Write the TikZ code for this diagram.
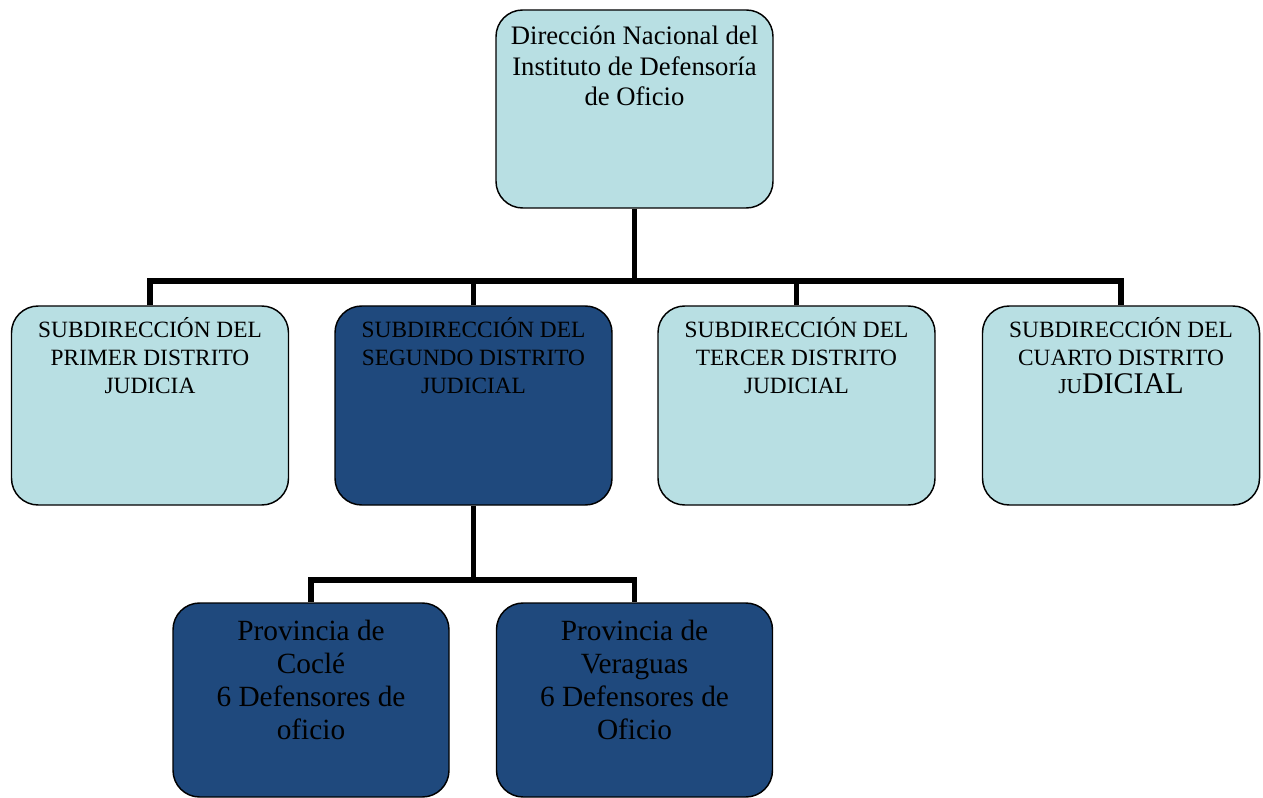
\documentclass[tikz,border=0pt]{standalone}
\usepackage{fontspec}
\setmainfont{Liberation Serif}
\usetikzlibrary{backgrounds}
\definecolor{lightb}{HTML}{B8DFE3}
\definecolor{darkb}{HTML}{1F497D}
\begin{document}
\begin{tikzpicture}[x=0.75pt,y=-0.75pt,
  box/.style={draw=black,line width=1.1pt,rounded corners=20pt,inner sep=0pt},
  lbox/.style={box,fill=lightb},
  dbox/.style={box,fill=darkb},
  topsize/.style={minimum width=207.75pt,minimum height=148.5pt},
  midsize/.style={minimum width=207.75pt,minimum height=149.25pt},
  lowsize/.style={minimum width=207pt,minimum height=145.5pt},
  conn/.style={line width=4.3pt,line join=miter},
  ttop/.style={font=\fontsize{20}{22.9}\selectfont,align=center,anchor=base,inner sep=0pt},
  tmid/.style={font=\fontsize{17.5}{20.8}\selectfont,align=center,anchor=base,inner sep=0pt},
  tlow/.style={font=\fontsize{22}{24.75}\selectfont,align=center,anchor=base,inner sep=0pt}
]
\useasboundingbox (0,0) rectangle (1263,798);

\node[lbox,topsize] (top) at (634.5,109) {};
\node[lbox,midsize] (s1) at (150,405.5) {};
\node[dbox,midsize] (s2) at (473.5,405.5) {};
\node[lbox,midsize] (s3) at (796.5,405.5) {};
\node[lbox,midsize] (s4) at (1121,405.5) {};
\node[dbox,lowsize] (p1) at (311,700) {};
\node[dbox,lowsize] (p2) at (634.5,700) {};

\coordinate (bus) at (0,281);
\coordinate (bus2) at (0,580);

\begin{scope}[on background layer]
\draw[conn] (top.south) -- (top.south |- bus);
\draw[conn] (s1.north) -- (s1.north |- bus) -- (s4.north |- bus) -- (s4.north);
\draw[conn] (s2.north) -- (s2.north |- bus);
\draw[conn] (s3.north) -- (s3.north |- bus);
\draw[conn] (s2.south) -- (s2.south |- bus2);
\draw[conn] (p1.north) -- (p1.north |- bus2) -- (p2.north |- bus2) -- (p2.north);
\end{scope}

\node[ttop] (ttext) at (634.5,106) {Dirección Nacional del\\Instituto de Defensoría\\de Oficio};
\node[tmid] (t1) at (150,393) {SUBDIRECCIÓN DEL\\PRIMER DISTRITO\\JUDICIA};
\node[tmid] (t2) at (473.5,393) {SUBDIRECCIÓN DEL\\SEGUNDO DISTRITO\\JUDICIAL};
\node[tmid] (t3) at (796.5,393) {SUBDIRECCIÓN DEL\\TERCER DISTRITO\\JUDICIAL};
\node[tmid] (t4) at (1121,393) {SUBDIRECCIÓN DEL\\CUARTO DISTRITO\\{\fontsize{16}{20.8}\selectfont JU}{\fontsize{22.5}{20.8}\selectfont DICIAL}};
\node[tlow] (tp1) at (311,739) {Provincia de\\Coclé\\6 Defensores de\\oficio};
\node[tlow] (tp2) at (634.5,739) {Provincia de\\Veraguas\\6 Defensores de\\Oficio};
\end{tikzpicture}
\end{document}
